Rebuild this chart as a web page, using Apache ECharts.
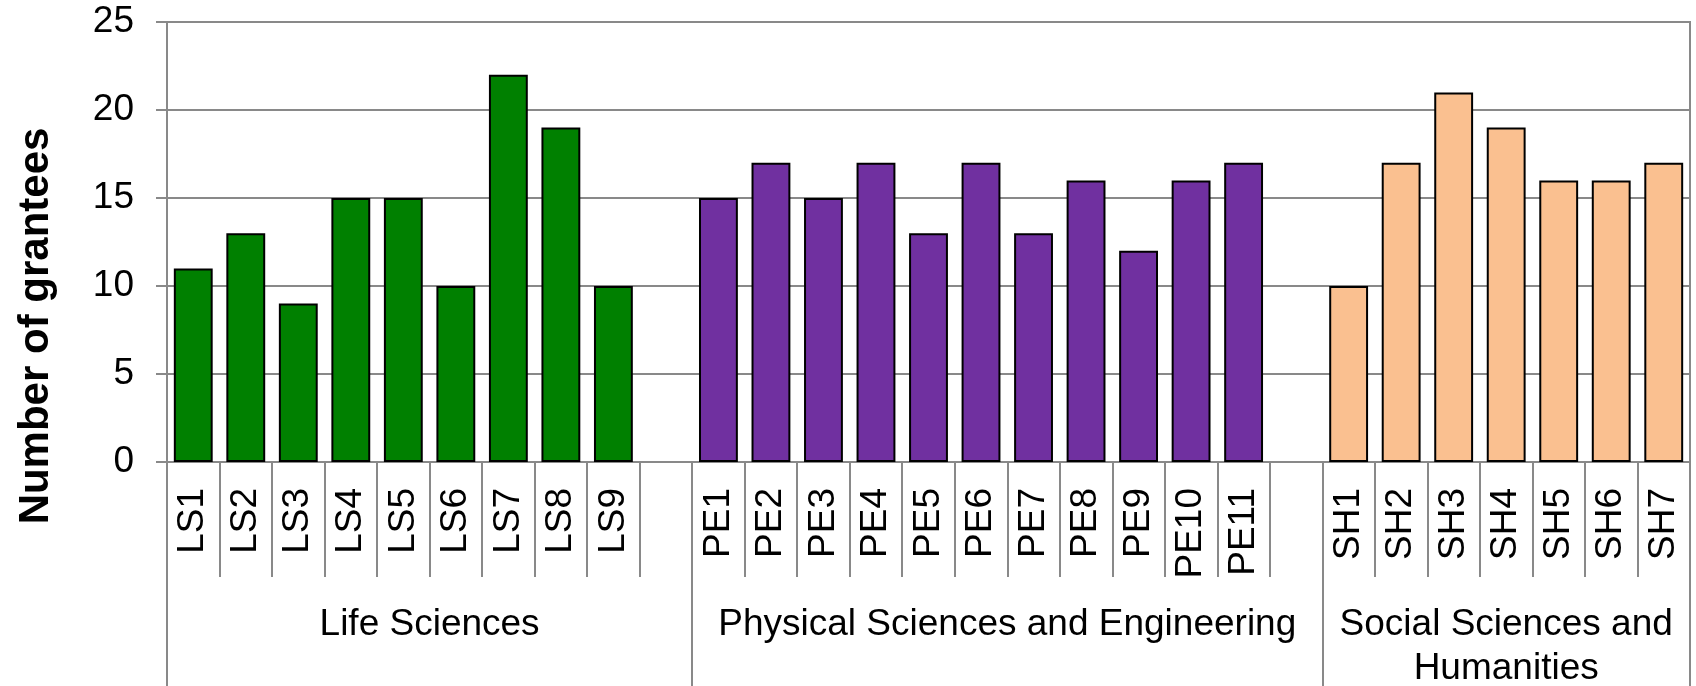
<!DOCTYPE html>
<html><head><meta charset="utf-8">
<script src="https://cdn.jsdelivr.net/npm/echarts@6/dist/echarts.min.js"></script>
<style>html,body{margin:0;padding:0;background:#fff}#c{width:1696px;height:686px}</style>
</head><body><div id="c"></div>
<script>
const lsCats = ['LS1','LS2','LS3','LS4','LS5','LS6','LS7','LS8','LS9'];
const lsValues = [11,13,9,15,15,10,22,19,10];
const peCats = ['PE1','PE2','PE3','PE4','PE5','PE6','PE7','PE8','PE9','PE10','PE11'];
const peValues = [15,17,15,17,13,17,13,16,12,16,17];
const shCats = ['SH1','SH2','SH3','SH4','SH5','SH6','SH7'];
const shValues = [10,17,21,19,16,16,17];
const groupNames = ['Life Sciences','Physical Sciences and Engineering','Social Sciences and\nHumanities'];
const yMin = 0, yMax = 25, yStep = 5;

const categories = [...lsCats, ' ', ...peCats, '  ', ...shCats];
const N = categories.length;
const lsStart = 0, peStart = lsCats.length + 1, shStart = peStart + peCats.length + 1;
function place(vals, start){ const a = new Array(N).fill('-'); vals.forEach((v,i)=>{a[start+i]=v;}); return a; }
const groupBounds = [0, peStart, shStart, N];
const groupCenters = [peStart/2, (peStart+shStart)/2, (shStart+N)/2];

const FONT = "'Liberation Sans', Arial, sans-serif";
const GREY = '#898989';

const chart = echarts.init(document.getElementById('c'));
chart.setOption({
  animation: false,
  backgroundColor: '#fff',
  grid: {left: 167, right: 6, top: 22, bottom: 224, containLabel: false, outerBoundsMode: 'none',
         show: true, borderColor: GREY, borderWidth: 2, backgroundColor: 'transparent'},
  xAxis: [{
    type: 'category', data: categories, boundaryGap: true,
    axisLine: {show: true, lineStyle: {color: GREY, width: 2}},
    axisTick: {show: true, interval: 0, length: 115, lineStyle: {color: GREY, width: 2}},
    axisLabel: {interval: 0, rotate: 90, margin: 26, fontSize: 37, color: '#000', fontFamily: FONT},
    splitLine: {show: false}
  }, {
    type: 'value', min: 0, max: N, position: 'bottom',
    axisLine: {show: false},
    splitLine: {show: false},
    axisTick: {show: true, customValues: groupBounds, length: 224, lineStyle: {color: GREY, width: 2}},
    axisLabel: {show: true, customValues: groupCenters, margin: 141, fontSize: 37, lineHeight: 44, color: '#000', fontFamily: FONT, align: 'center',
      formatter: function(v){ const i = groupCenters.indexOf(v); return i >= 0 ? groupNames[i] : ''; }}
  }],
  yAxis: {
    type: 'value', min: yMin, max: yMax, interval: yStep,
    name: 'Number of grantees', nameLocation: 'middle', nameGap: 110,
    nameTextStyle: {fontSize: 42, fontWeight: 'bold', color: '#000', fontFamily: FONT, padding: [0,168,0,0]},
    axisLine: {show: true, lineStyle: {color: GREY, width: 2}},
    axisTick: {show: true, length: 11, lineStyle: {color: GREY, width: 2}},
    axisLabel: {fontSize: 37, color: '#000', fontFamily: FONT, margin: 33},
    splitLine: {show: true, lineStyle: {color: GREY, width: 2}}
  },
  series: [
    {type: 'bar', stack: 'g', data: place(lsValues, lsStart), barCategoryGap: '26%', itemStyle: {color: '#008000', borderColor: '#000', borderWidth: 2}},
    {type: 'bar', stack: 'g', data: place(peValues, peStart), itemStyle: {color: '#7030A0', borderColor: '#000', borderWidth: 2}},
    {type: 'bar', stack: 'g', data: place(shValues, shStart), itemStyle: {color: '#FAC090', borderColor: '#000', borderWidth: 2}}
  ]
});
</script></body></html>
